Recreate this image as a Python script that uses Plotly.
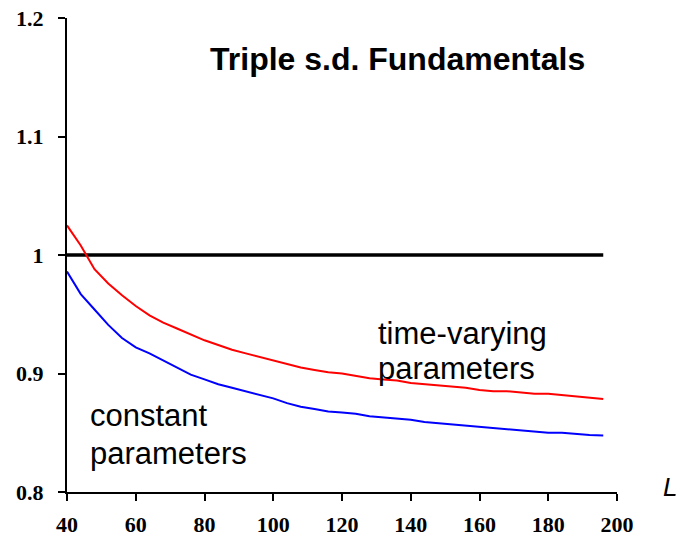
import plotly.graph_objects as go

L = [40, 44, 48, 52, 56, 60, 64, 68, 72, 76, 80, 84, 88, 92, 96, 100, 104, 108,
     112, 116, 120, 124, 128, 132, 136, 140, 144, 148, 152, 156, 160, 164, 168,
     172, 176, 180, 184, 188, 192, 196]

time_varying = [1.025, 1.008, 0.988, 0.976, 0.966, 0.957, 0.949, 0.943, 0.938,
                0.933, 0.928, 0.924, 0.920, 0.917, 0.914, 0.911, 0.908, 0.905,
                0.903, 0.901, 0.900, 0.898, 0.896, 0.895, 0.894, 0.892, 0.891,
                0.890, 0.889, 0.888, 0.886, 0.885, 0.885, 0.884, 0.883, 0.883,
                0.882, 0.881, 0.880, 0.8785]

constant = [0.986, 0.967, 0.954, 0.941, 0.930, 0.922, 0.917, 0.911, 0.905,
            0.899, 0.895, 0.891, 0.888, 0.885, 0.882, 0.879, 0.875, 0.872,
            0.870, 0.868, 0.867, 0.866, 0.864, 0.863, 0.862, 0.861, 0.859,
            0.858, 0.857, 0.856, 0.855, 0.854, 0.853, 0.852, 0.851, 0.850,
            0.850, 0.849, 0.848, 0.8477]

baseline = [1.0] * len(L)

x_ticks = [40, 60, 80, 100, 120, 140, 160, 180, 200]
y_ticks = [0.8, 0.9, 1.0, 1.1, 1.2]
y_tick_labels = ["0.8", "0.9", "1", "1.1", "1.2"]

fig = go.Figure()
fig.add_trace(go.Scatter(x=L, y=baseline, mode="lines",
                         line=dict(color="black", width=3.5), showlegend=False))
fig.add_trace(go.Scatter(x=L, y=time_varying, mode="lines",
                         line=dict(color="#ff0000", width=2), showlegend=False))
fig.add_trace(go.Scatter(x=L, y=constant, mode="lines",
                         line=dict(color="#0000ff", width=2), showlegend=False))

tick_font = dict(family="Liberation Serif", size=22, color="black", weight="bold")

fig.update_layout(
    width=683, height=537,
    margin=dict(l=67, r=66, t=17.5, b=45, autoexpand=False),
    paper_bgcolor="white", plot_bgcolor="white",
    xaxis=dict(range=[40, 200], tickvals=x_ticks, showgrid=False, zeroline=False,
               showline=True, linecolor="black", linewidth=2, automargin=False,
               ticks="outside", ticklen=7, tickwidth=2, tickcolor="black",
               tickfont=tick_font, ticklabelstandoff=5, ticklabeloverflow="allow"),
    yaxis=dict(range=[0.8, 1.2], tickvals=y_ticks, ticktext=y_tick_labels,
               showgrid=False, zeroline=False, automargin=False,
               showline=True, linecolor="black", linewidth=2,
               ticks="outside", ticklen=7, tickwidth=2, tickcolor="black",
               tickfont=tick_font, ticklabelstandoff=10, ticklabeloverflow="allow"),
)

def txt(s, x, y, xanchor="left", size=31, bold=False, italic=False, ref="data"):
    t = s
    if bold:
        t = "<b>" + t + "</b>"
    if italic:
        t = "<i>" + t + "</i>"
    xr, yr = ("x", "y") if ref == "data" else ("paper", "paper")
    fig.add_annotation(text=t, x=x, y=y, xref=xr, yref=yr, xanchor=xanchor,
                       yanchor="middle", showarrow=False,
                       font=dict(family="Liberation Sans, Arial", size=size, color="black"))

txt("Triple s.d. Fundamentals", 136.2, 1.165, xanchor="center", size=32, bold=True)
txt("time-varying", 130.0, 0.9335)
txt("parameters", 130.0, 0.904)
txt("constant", 46.0, 0.8645)
txt("parameters", 46.0, 0.8325)
txt("L", 1.0964, 0.0095, xanchor="center", size=26, italic=True, ref="paper")

fig.write_html("out.html", config={"displayModeBar": False})

# remove the default 8px body margin so the figure sits at the window's corner
with open("out.html", "r", encoding="utf-8") as f:
    html = f.read()
html = html.replace("<body>", '<body style="margin:0;overflow:hidden">', 1)
with open("out.html", "w", encoding="utf-8") as f:
    f.write(html)
